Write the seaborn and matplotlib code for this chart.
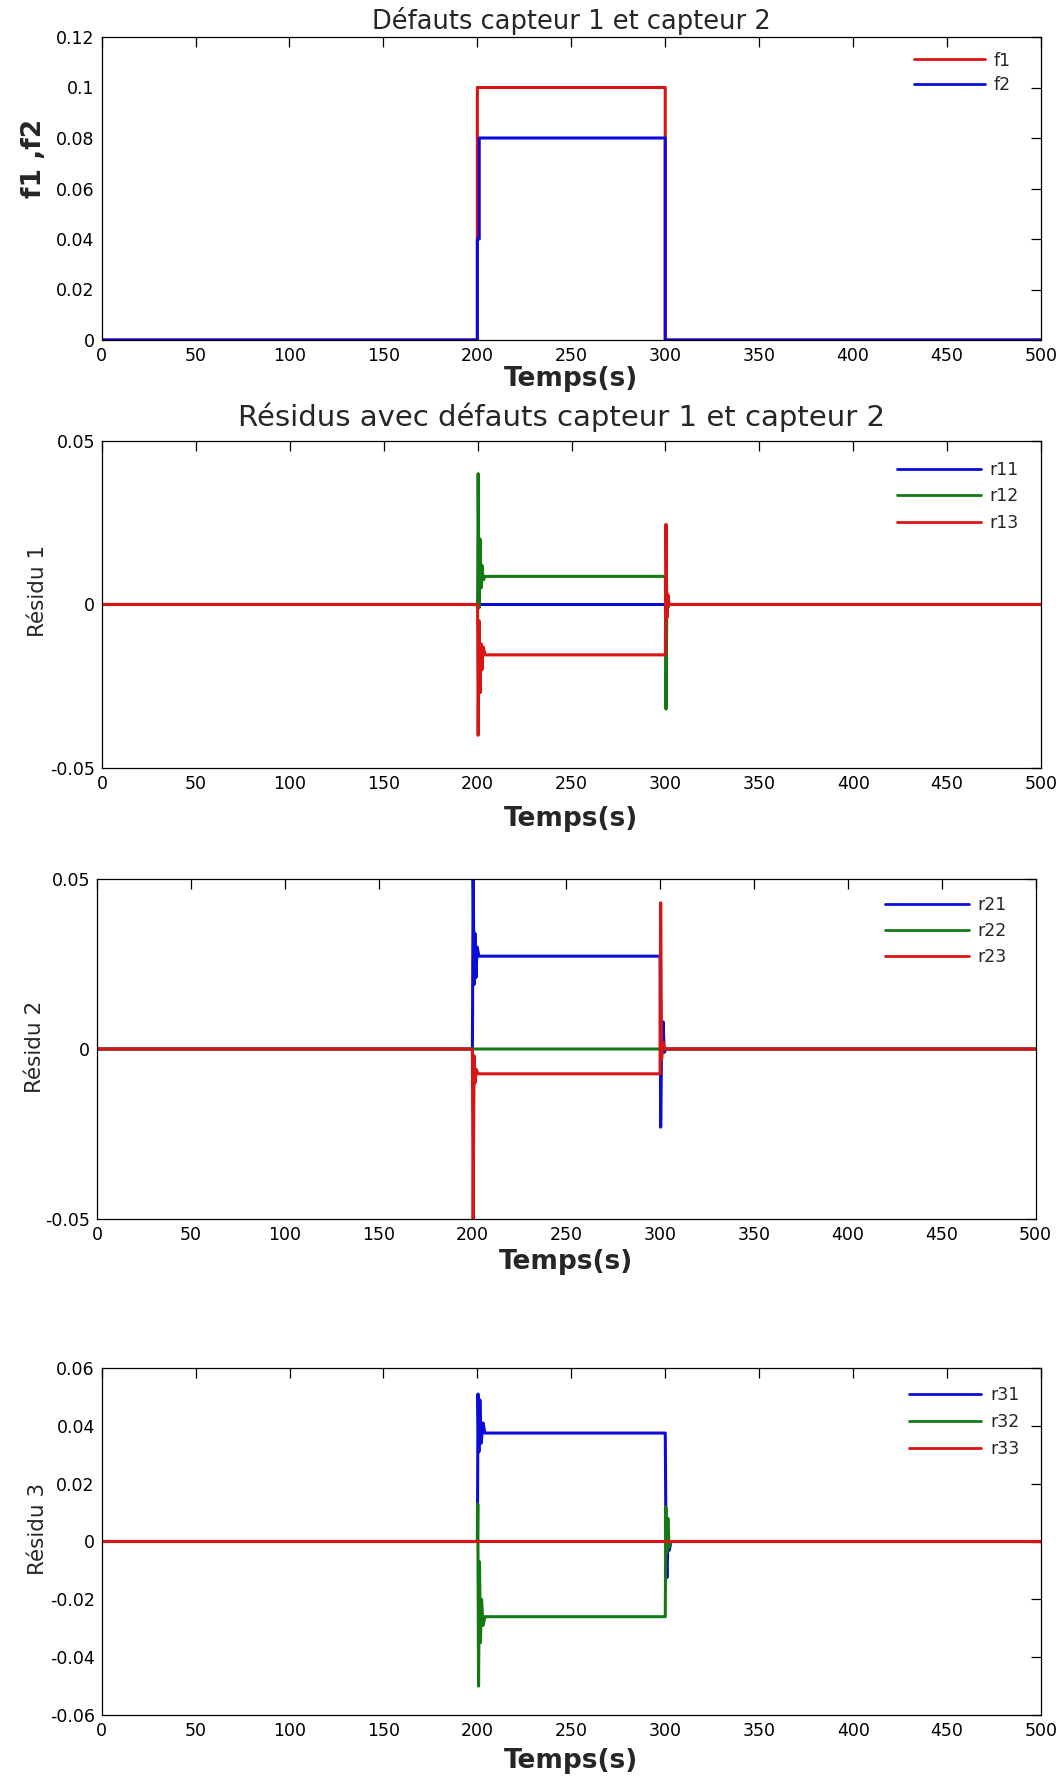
import numpy as np
import matplotlib
matplotlib.use("Agg")
import matplotlib.pyplot as plt
import seaborn as sns
from matplotlib.ticker import FixedLocator, FuncFormatter

# ---------------- data ----------------
x_ticks = [0, 50, 100, 150, 200, 250, 300, 350, 400, 450, 500]

# sensor faults
t_f1 = [0, 200, 200, 300, 300, 500]
f1 = [0, 0, 0.1, 0.1, 0, 0]
t_f2 = [0, 200, 200, 201, 201, 300, 300, 500]
f2 = [0, 0, 0.04, 0.04, 0.08, 0.08, 0, 0]
y_ticks_f = [0, 0.02, 0.04, 0.06, 0.08, 0.1, 0.12]

# residual 1
t_r11 = [0, 500]
r11 = [0, 0]
t_r12 = [0, 200, 200.3, 200.8, 201.3, 201.8, 202.3, 203, 204, 300, 300.3, 300.8, 301.3, 302, 500]
r12 = [0, 0, 0.040, -0.001, 0.020, 0.005, 0.012, 0.0075, 0.0086, 0.0086, -0.032, 0.003, -0.001, 0, 0]
t_r13 = [0, 200, 200.3, 200.8, 201.3, 201.8, 202.3, 203, 204, 300, 300.3, 300.8, 301.3, 302, 500]
r13 = [0, 0, -0.040, -0.005, -0.027, -0.012, -0.020, -0.013, -0.0154, -0.0154, 0.0245, -0.004, 0.003, 0, 0]
y_ticks_r1 = [-0.05, 0, 0.05]

# residual 2
t_r21 = [0, 200, 200.4, 200.9, 201.4, 201.9, 202.5, 203.5, 300, 300.3, 300.8, 301.6, 302.2, 303, 500]
r21 = [0, 0, 0.052, 0.019, 0.034, 0.021, 0.030, 0.0273, 0.0273, -0.023, 0.002, 0.008, -0.001, 0, 0]
t_r22 = [0, 500]
r22 = [0, 0]
t_r23 = [0, 200, 200.4, 200.9, 201.4, 202, 203, 300, 300.3, 300.8, 301.5, 302.5, 500]
r23 = [0, 0, -0.052, -0.002, -0.010, -0.006, -0.0073, -0.0073, 0.043, -0.003, 0.002, 0, 0]
y_ticks_r2 = [-0.05, 0, 0.05]

# residual 3
t_r31 = [0, 200, 200.3, 200.8, 201.3, 202, 203, 204, 300, 300.4, 300.9, 301.5, 302.2, 303, 500]
r31 = [0, 0, 0.051, 0.031, 0.049, 0.034, 0.041, 0.0375, 0.0375, -0.004, -0.0125, 0.002, -0.003, 0, 0]
t_r32 = [0, 200, 200.2, 200.6, 201.1, 201.6, 202.2, 203, 204, 300, 300.3, 300.8, 301.4, 302, 303, 500]
r32 = [0, 0, 0.013, -0.050, -0.007, -0.035, -0.020, -0.029, -0.026, -0.026, 0.012, -0.004, 0.008, -0.002, 0, 0]
t_r33 = [0, 500]
r33 = [0, 0]
y_ticks_r3 = [-0.06, -0.04, -0.02, 0, 0.02, 0.04, 0.06]

# ---------------- style ----------------
sns.set_style("white")
plt.rcParams["font.family"] = ["DejaVu Sans"]
plt.rcParams["axes.linewidth"] = 0.9
plt.rcParams["axes.edgecolor"] = "black"

RED = "#d81414"
GREEN = "#137a13"
BLUE = "#0c0cd8"

W, H = 1062, 1778
fig = plt.figure(figsize=(W / 100, H / 100), dpi=100)


def box(left, top, right, bottom):
    return [left / W, 1 - bottom / H, (right - left) / W, (bottom - top) / H]


def fmt(v, pos=None):
    v = round(v, 6)
    if v == 0:
        return "0"
    return ("%g" % v)


def style_axes(ax, yticks):
    ax.set_xlim(0, 500)
    ax.set_ylim(yticks[0], yticks[-1])
    ax.xaxis.set_major_locator(FixedLocator(x_ticks))
    ax.yaxis.set_major_locator(FixedLocator(yticks))
    ax.xaxis.set_major_formatter(FuncFormatter(fmt))
    ax.yaxis.set_major_formatter(FuncFormatter(fmt))
    ax.tick_params(direction="in", length=7, width=0.9, top=True, right=True,
                   labelsize=12.5, colors="black", pad=5)
    for s in ax.spines.values():
        s.set_visible(True)
        s.set_color("black")


def legend(ax, x, y, hl=4.8, ls=0.47):
    lg = ax.legend(loc="upper left", bbox_to_anchor=(x, y), frameon=False,
                   fontsize=12.5, handlelength=hl, handletextpad=0.5,
                   labelspacing=ls, borderpad=0, borderaxespad=0)
    for h in lg.get_lines():
        h.set_linewidth(2.0)


def xlabel(ax, y):
    ax.set_xlabel("Temps(s)", fontsize=19, fontweight="bold")
    ax.xaxis.label.set_va("center")
    ax.xaxis.set_label_coords(0.5, y)


def ylabel(ax, text, x, y, bold=False, size=15.5):
    ax.set_ylabel(text, fontsize=size, fontweight="bold" if bold else "normal")
    ax.yaxis.label.set_va("center")
    ax.yaxis.set_label_coords(x, y)


def series(ax, t, v, color, label, lw=2.2):
    sns.lineplot(x=t, y=v, ax=ax, color=color, linewidth=lw, label=label,
                 sort=False, estimator=None, snap=False)


# ---- panel 1 : sensor faults ----
ax1 = fig.add_axes(box(101.6, 37, 1041, 340))
series(ax1, t_f1, f1, RED, "f1")
series(ax1, t_f2, f2, BLUE, "f2")
style_axes(ax1, y_ticks_f)
ax1.set_title("Défauts capteur 1 et capteur 2", fontsize=18.5, va="center", y=1.052, pad=0)
xlabel(ax1, -0.128)
ylabel(ax1, "f1 ,f2", -0.072, 0.60, bold=True, size=19)
legend(ax1, 0.865, 0.952, hl=4.1, ls=0.35)

# ---- panel 2 : residual 1 ----
ax2 = fig.add_axes(box(102, 441, 1041, 768))
series(ax2, t_r11, r11, BLUE, "r11")
series(ax2, t_r12, r12, GREEN, "r12")
series(ax2, t_r13, r13, RED, "r13")
style_axes(ax2, y_ticks_r1)
ax2.set_title("Résidus avec défauts capteur 1 et capteur 2", fontsize=21, va="center",
              x=0.489, y=1.072, pad=0)
xlabel(ax2, -0.155)
ylabel(ax2, "Résidu 1", -0.068, 0.54)
legend(ax2, 0.847, 0.938)

# ---- panel 3 : residual 2 ----
ax3 = fig.add_axes(box(97, 879, 1035.5, 1219))
series(ax3, t_r21, r21, BLUE, "r21")
series(ax3, t_r22, r22, GREEN, "r22")
series(ax3, t_r23, r23, RED, "r23")
style_axes(ax3, y_ticks_r2)
xlabel(ax3, -0.127)
ylabel(ax3, "Résidu 2", -0.066, 0.506)
legend(ax3, 0.840, 0.950)

# ---- panel 4 : residual 3 ----
ax4 = fig.add_axes(box(101.7, 1368, 1041, 1715))
series(ax4, t_r31, r31, BLUE, "r31")
series(ax4, t_r32, r32, GREEN, "r32")
series(ax4, t_r33, r33, RED, "r33")
style_axes(ax4, y_ticks_r3)
xlabel(ax4, -0.133)
ylabel(ax4, "Résidu 3", -0.0675, 0.536)
legend(ax4, 0.859, 0.947, hl=4.2, ls=0.52)

fig.savefig("out.png", dpi=100, facecolor="white")
